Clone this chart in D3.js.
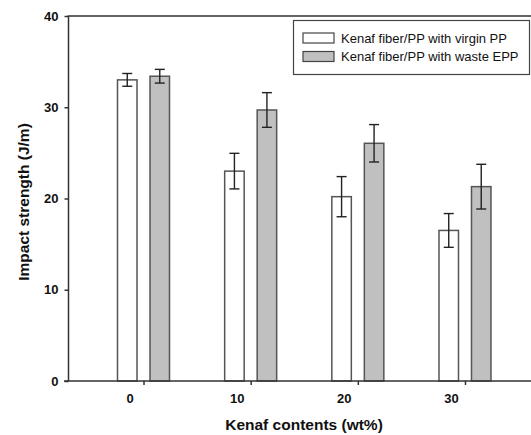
<!DOCTYPE html>
<html>
<head>
<meta charset="utf-8">
<script src="https://cdn.jsdelivr.net/npm/d3@7"></script>
<style>
  body { margin: 0; background: #fff; }
  svg { display: block; font-family: 'Liberation Sans', Arial, sans-serif; }
</style>
</head>
<body>
<div class="graph"><svg></svg></div>
<script>
// data
const categories = ['0', '10', '20', '30']
const series = ['Kenaf fiber/PP with virgin PP', 'Kenaf fiber/PP with waste EPP']
const virginPP = [33.0, 23.0, 20.2, 16.5]
const virginErr = [0.7, 1.95, 2.2, 1.85]
const wasteEPP = [33.4, 29.7, 26.05, 21.3]
const wasteErr = [0.75, 1.9, 2.05, 2.45]
const yTicks = [0, 10, 20, 30, 40]
const colors = ['#ffffff', '#c0c0c0']

const width = 531
const height = 435
const margin = { top: 16, left: 68.5, bottom: 54 }
const plotRight = 540
const plotBottom = height - margin.bottom

const svg = d3.select('.graph').select('svg')
  .attr('width', width)
  .attr('height', height)

const x = d3.scalePoint()
  .domain(categories)
  .range([margin.left, plotRight])
  .padding(0.7)

const xSub = d3.scaleBand()
  .domain(series)
  .range([-26, 26])
  .paddingInner(0.4)

const y = d3.scaleLinear()
  .domain([0, 40])
  .range([381, margin.top])

const color = d3.scaleOrdinal().domain(series).range(colors)

const rows = categories.map((c, i) => ({
  cat: c,
  vals: [
    { s: series[0], v: virginPP[i], e: virginErr[i] },
    { s: series[1], v: wasteEPP[i], e: wasteErr[i] }
  ]
}))

// bars
const groups = svg.append('g')
  .selectAll('g')
  .data(rows)
  .join('g')
  .attr('transform', d => 'translate(' + x(d.cat) + ',0)')

groups.selectAll('rect')
  .data(d => d.vals)
  .join('rect')
  .attr('x', d => xSub(d.s))
  .attr('width', xSub.bandwidth())
  .attr('y', d => y(d.v))
  .attr('height', d => y(0) - y(d.v))
  .attr('fill', d => color(d.s))
  .attr('stroke', '#555')
  .attr('stroke-width', 1.5)

// error bars
const err = groups.selectAll('g.err')
  .data(d => d.vals)
  .join('g')
  .attr('class', 'err')
  .attr('transform', d => 'translate(' + (xSub(d.s) + xSub.bandwidth() / 2) + ',0)')
  .attr('stroke', '#222')
  .attr('stroke-width', 1.4)

err.append('line')
  .attr('y1', d => y(d.v + d.e))
  .attr('y2', d => y(d.v - d.e))
err.append('line')
  .attr('x1', -5).attr('x2', 5)
  .attr('y1', d => y(d.v + d.e)).attr('y2', d => y(d.v + d.e))
err.append('line')
  .attr('x1', -5).attr('x2', 5)
  .attr('y1', d => y(d.v - d.e)).attr('y2', d => y(d.v - d.e))

// axes
const yAxis = svg.append('g')
  .attr('transform', 'translate(' + margin.left + ',0)')
  .call(d3.axisLeft(y).tickValues(yTicks).tickSize(4).tickPadding(6))
yAxis.select('.domain').remove()
yAxis.selectAll('line').attr('stroke', '#333').attr('stroke-width', 1.5)
yAxis.selectAll('text')
  .attr('font-size', 13).attr('font-weight', 'bold').attr('fill', '#111')
  .attr('font-family', 'Liberation Sans, Arial, sans-serif')

const xAxis = svg.append('g')
  .attr('transform', 'translate(0,' + plotBottom + ')')
  .call(d3.axisBottom(x).tickSize(4).tickPadding(9))
xAxis.select('.domain').remove()
xAxis.selectAll('line').attr('stroke', '#333').attr('stroke-width', 1.5)
xAxis.selectAll('text')
  .attr('dx', -14)
  .attr('font-size', 13).attr('font-weight', 'bold').attr('fill', '#111')
  .attr('font-family', 'Liberation Sans, Arial, sans-serif')

// frame lines
svg.append('path')
  .attr('d', 'M' + plotRight + ',' + margin.top + 'H' + margin.left + 'V' + plotBottom + 'H' + plotRight)
  .attr('fill', 'none')
  .attr('stroke', '#333')
  .attr('stroke-width', 1.5)
svg.append('line')
  .attr('x1', 64).attr('x2', margin.left)
  .attr('y1', plotBottom).attr('y2', plotBottom)
  .attr('stroke', '#333').attr('stroke-width', 1.5)

// axis titles
svg.append('text')
  .text('Impact strength (J/m)')
  .attr('transform', 'translate(28.5,' + 202 + ') rotate(-90)')
  .attr('text-anchor', 'middle')
  .attr('font-size', 15.5).attr('font-weight', 'bold').attr('fill', '#111')

svg.append('text')
  .text('Kenaf contents (wt%)')
  .attr('x', 304).attr('y', 430)
  .attr('text-anchor', 'middle')
  .attr('font-size', 15.5).attr('font-weight', 'bold').attr('fill', '#111')

// legend
const legend = svg.append('g')
legend.append('rect')
  .attr('x', 293.5).attr('y', 20.5)
  .attr('width', 236).attr('height', 54)
  .attr('fill', '#fff').attr('stroke', '#444').attr('stroke-width', 1.2)

const items = legend.selectAll('g.item')
  .data(series)
  .join('g')
  .attr('class', 'item')
  .attr('transform', (d, i) => 'translate(0,' + (i * 18.5) + ')')
items.append('rect')
  .attr('x', 303).attr('y', 33)
  .attr('width', 31).attr('height', 10)
  .attr('fill', d => color(d))
  .attr('stroke', '#444').attr('stroke-width', 1.2)
items.append('text')
  .text(d => d)
  .attr('x', 341).attr('y', 42.5)
  .attr('font-size', 13).attr('fill', '#111')
</script>
</body>
</html>
